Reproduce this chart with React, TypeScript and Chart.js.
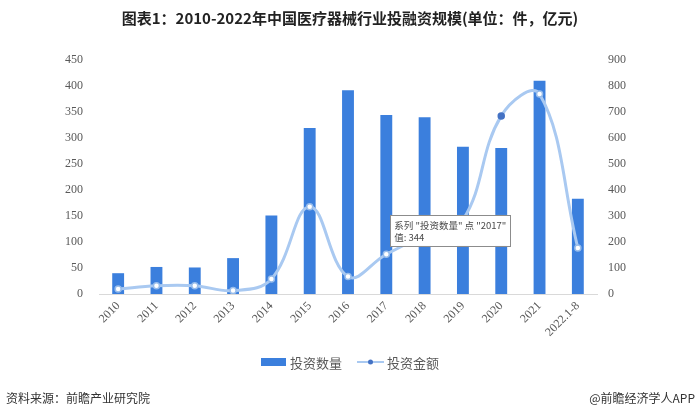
import React, { useEffect, useRef } from "react";
import { Chart, registerables } from "chart.js";

Chart.register(...registerables);

const categories = ["2010", "2011", "2012", "2013", "2014", "2015", "2016", "2017", "2018", "2019", "2020", "2021", "2022.1-8"];
const dealCounts = [40, 52, 51, 69, 151, 319, 392, 344, 340, 283, 281, 410, 183];
const dealAmounts = [19, 32, 32, 13, 58, 336, 67, 153, 225, 285, 685, 769, 177];
const countLabel = "投资数量";
const amountLabel = "投资金额";
const leftMax = 450;
const leftStep = 50;
const rightMax = 900;
const rightStep = 100;
const highlightedAmountIndex = 10;
const tooltipCategory = "2017";
const tooltipAnchorValue = 152;
const tooltipLines = ['系列 "投资数量" 点 "2017"', "值: 344"];
const titleText = "图表1：2010-2022年中国医疗器械行业投融资规模(单位：件，亿元)";
const sourceText = "资料来源：前瞻产业研究院";
const creditText = "@前瞻经济学人APP";

const BAR_COLOR = "#3B7FDD";
const LINE_COLOR = "#A9C9F1";
const POINT_BORDER = "#97BCEB";
const POINT_DARK = "#4472C4";
const TICK_COLOR = "#595959";
const CJK = '"Noto Sans CJK SC", "Noto Sans", sans-serif';

const legendPlugin = {
  id: "customLegend",
  afterDraw(chart: any) {
    const ctx = chart.ctx as CanvasRenderingContext2D;
    ctx.save();
    ctx.font = `13px ${CJK}`;
    ctx.textBaseline = "middle";
    const w1 = ctx.measureText(countLabel).width;
    const w2 = ctx.measureText(amountLabel).width;
    const sw1 = 25, sw2 = 27, gap = 4, itemGap = 15;
    const total = sw1 + gap + w1 + itemGap + sw2 + 3 + w2;
    let x = chart.width / 2 - total / 2;
    const y = 362;
    ctx.fillStyle = BAR_COLOR;
    ctx.fillRect(x, y - 4, sw1, 8);
    x += sw1 + gap;
    ctx.fillStyle = TICK_COLOR;
    ctx.fillText(countLabel, x, y + 1);
    x += w1 + itemGap;
    ctx.strokeStyle = LINE_COLOR;
    ctx.lineWidth = 2;
    ctx.beginPath();
    ctx.moveTo(x, y);
    ctx.lineTo(x + sw2, y);
    ctx.stroke();
    ctx.fillStyle = POINT_DARK;
    ctx.beginPath();
    ctx.arc(x + sw2 / 2, y, 2.5, 0, Math.PI * 2);
    ctx.fill();
    x += sw2 + 3;
    ctx.fillStyle = TICK_COLOR;
    ctx.fillText(amountLabel, x, y + 1);
    ctx.restore();
  },
};

const tooltipPlugin = {
  id: "staticTooltip",
  afterDraw(chart: any) {
    const idx = categories.indexOf(tooltipCategory);
    const meta = chart.getDatasetMeta(1);
    const el = meta.data[idx];
    if (!el) return;
    const ctx = chart.ctx as CanvasRenderingContext2D;
    ctx.save();
    ctx.font = `9.5px ${CJK}`;
    const pad = 4;
    const lineH = 12;
    const w = Math.max(...tooltipLines.map((l) => ctx.measureText(l).width)) + pad * 2;
    const h = tooltipLines.length * lineH + pad * 2 - 1;
    const x = el.x + 4;
    const y = chart.scales.y.getPixelForValue(tooltipAnchorValue);
    ctx.fillStyle = "#ffffff";
    ctx.fillRect(x, y, w, h);
    ctx.strokeStyle = "#8c8c8c";
    ctx.lineWidth = 1;
    ctx.strokeRect(Math.round(x) + 0.5, Math.round(y) + 0.5, Math.round(w), Math.round(h));
    ctx.fillStyle = "#4a4a4a";
    ctx.textBaseline = "middle";
    tooltipLines.forEach((l, i) => {
      ctx.fillText(l, x + pad, y + pad + lineH * i + lineH / 2);
    });
    ctx.restore();
  },
};

export default function App() {
  const ref = useRef<HTMLCanvasElement>(null);

  useEffect(() => {
    document.body.style.margin = "0";
    const canvas = ref.current;
    if (!canvas) return;
    const chart = new Chart(canvas, {
      type: "bar",
      data: {
        labels: categories,
        datasets: [
          {
            type: "line",
            label: amountLabel,
            data: dealAmounts,
            yAxisID: "y1",
            order: 0,
            borderColor: LINE_COLOR,
            borderWidth: 3,
            tension: 0.4,
            pointRadius: 3,
            pointBorderWidth: 1.5,
            pointBorderColor: dealAmounts.map((_, i) => (i === highlightedAmountIndex ? POINT_DARK : POINT_BORDER)),
            pointBackgroundColor: dealAmounts.map((_, i) => (i === highlightedAmountIndex ? POINT_DARK : "#ffffff")),
            fill: false,
          } as any,
          {
            type: "bar",
            label: countLabel,
            data: dealCounts,
            yAxisID: "y",
            order: 1,
            backgroundColor: BAR_COLOR,
            categoryPercentage: 1,
            barPercentage: 0.31,
          },
        ],
      },
      options: {
        responsive: false,
        animation: false,
        devicePixelRatio: 1,
        events: [],
        layout: { padding: { left: 0, right: 0, top: 60, bottom: 74 } },
        plugins: {
          legend: { display: false },
          tooltip: { enabled: false },
          title: { display: false },
        },
        scales: {
          x: {
            grid: { display: false, drawTicks: false },
            border: { display: true, color: "#d9d9d9", width: 1 },
            ticks: {
              color: TICK_COLOR,
              font: { family: '"Liberation Serif", "DejaVu Serif", serif', size: 12 },
              minRotation: 45,
              maxRotation: 45,
              padding: 5,
              autoSkip: false,
            },
            afterFit: (s: any) => {
              s.height = 50;
            },
          },
          y: {
            position: "left",
            min: 0,
            max: leftMax,
            grid: { display: false, drawTicks: false },
            border: { display: false },
            ticks: {
              stepSize: leftStep,
              color: TICK_COLOR,
              font: { family: '"Liberation Serif", "DejaVu Serif", serif', size: 12 },
              padding: 16,
            },
            afterFit: (s: any) => {
              s.width = 99;
            },
          },
          y1: {
            position: "right",
            min: 0,
            max: rightMax,
            grid: { display: false, drawTicks: false },
            border: { display: false },
            ticks: {
              stepSize: rightStep,
              color: TICK_COLOR,
              font: { family: '"Liberation Serif", "DejaVu Serif", serif', size: 12 },
              padding: 11,
            },
            afterFit: (s: any) => {
              s.width = 103;
            },
          },
        },
      },
      plugins: [legendPlugin, tooltipPlugin],
    });
    return () => chart.destroy();
  }, []);

  return (
    <div style={{ position: "relative", width: 700, height: 418, background: "#ffffff", overflow: "hidden" }}>
      <canvas ref={ref} width={700} height={418} style={{ position: "absolute", left: 0, top: 0, width: 700, height: 418 }} />
      <div
        style={{
          position: "absolute",
          top: 7,
          left: 0,
          width: 700,
          textAlign: "center",
          fontFamily: CJK,
          fontWeight: "bold",
          fontSize: 15,
          lineHeight: "22px",
          color: "#222222",
          whiteSpace: "nowrap",
        }}
      >
        {titleText}
      </div>
      <div
        style={{
          position: "absolute",
          top: 389,
          left: 6,
          fontFamily: CJK,
          fontSize: 12,
          lineHeight: "18px",
          color: "#333333",
          whiteSpace: "nowrap",
        }}
      >
        {sourceText}
      </div>
      <div
        style={{
          position: "absolute",
          top: 389,
          right: 5,
          fontFamily: CJK,
          fontSize: 12,
          lineHeight: "18px",
          color: "#333333",
          whiteSpace: "nowrap",
        }}
      >
        {creditText}
      </div>
    </div>
  );
}
